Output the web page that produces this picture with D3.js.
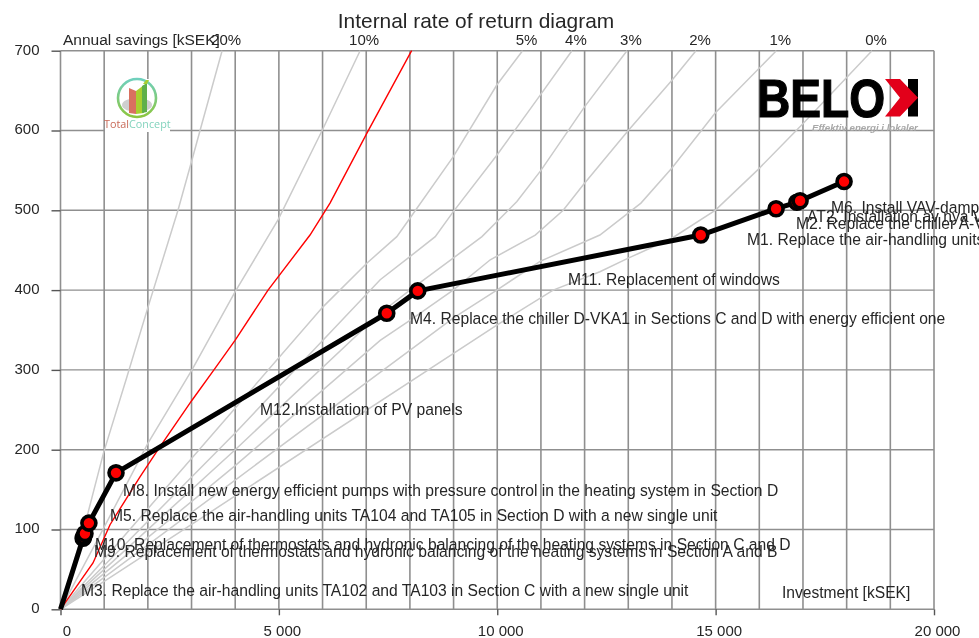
<!DOCTYPE html>
<html><head><meta charset="utf-8">
<style>
html,body{margin:0;padding:0;background:#fff;overflow:hidden}
svg{display:block;font-family:"Liberation Sans",Arial,sans-serif;filter:blur(0.4px)}
text{fill:#262626}
</style>
<script src="https://cdn.jsdelivr.net/npm/d3@7/dist/d3.min.js"></script>
</head><body><svg id="c" width="979" height="638"></svg>
<script>
const xTicks=d3.range(0,20001,5000), xGrid=d3.range(0,20001,1000), yTicks=d3.range(0,701,100);
const irrLabels=["20%","10%","5%","4%","3%","2%","1%","0%"];
const irr20=[[0,0],[630,121],[985,196],[1520,291],[2000,378],[2690,500],[3010,563],[3195,600],[3700,700]];
const irr10=[[0,0],[1000,103],[2000,208],[3010,300],[4000,398],[4980,488],[5990,600],[6860,700]];
const irr5=[[0,0],[1000,63],[3000,189],[6010,379],[7020,434],[7700,467],[8000,490],[8990,567],[9990,657],[10580,700]];
const irr4=[[0,0],[1000,55],[4000,221],[7320,413],[8000,442],[8580,467],[8990,498],[9990,569],[10980,644],[11710,700]];
const irr3=[[0,0],[1000,50],[4000,200],[7320,371],[8000,400],[8990,440],[9650,467],[10450,511],[11000,550],[11990,629],[12970,700]];
const irr2=[[0,0],[1000,45],[4000,180],[7320,337],[8000,362],[8990,400],[9840,438],[10870,469],[11510,500],[11970,532],[13000,600],[14000,663],[14550,700]];
const irr1=[[0,0],[1000,40],[4000,162],[8160,331],[8990,365],[9990,400],[10980,436],[12350,469],[13290,509],[14000,553],[14990,622],[16390,700]];
const irr0=[[0,0],[1000,35],[4000,142],[9990,356],[11280,400],[12350,423],[13000,440],[14000,465],[14990,500],[15970,551],[16970,607],[18580,700]];
const irrCurves=[irr20,irr10,irr5,irr4,irr3,irr2,irr1,irr0];
const redCurve=[[0,0],[744,58],[1134,106],[1820,166],[2233,200],[3011,262],[3538,302],[3996,337],[4752,400],[5713,469],[6171,509],[7019,597],[8040,700]];
const investment=[0,518,530,560,650,1271,7470,8180,14660,16384,16860,16934,17941];
const savings=[0,89,91,95,108,171,371,399,469,502,510,512,536];
const measureNames=["M3. Replace the air-handling units TA102 and TA103 in Section C with a new single unit",
"M9. Replacement of thermostats and hydronic balancing of the heating systems in Section A and B",
"M10. Replacement of thermostats and hydronic balancing of the heating systems in Section C and D",
"M5. Replace the air-handling units TA104 and TA105 in Section D with a new single unit",
"M8. Install new energy efficient pumps with pressure control in the heating system in Section D",
"M12.Installation of PV panels",
"M4. Replace the chiller D-VKA1 in Sections C and D with energy efficient one",
"M11. Replacement of windows",
"M1. Replace the air-handling units",
"M2. Replace the chiller A-VKA1",
"AT2. Installation av nya VAV",
"M6. Install VAV-dampers"];
const labelX=[469,767,790,1134,1431,4568,8003,11622,15720,16842,17094,17644];
const labelY=[24,72,81,117,149,250,364,413,464,484,492,503];

const svg=d3.select("#c");
const x=d3.scaleLinear().domain([0,20000]).range([60.5,934]);
const y=d3.scaleLinear().domain([0,700]).range([609.3,50.7]);
const line=d3.line().x(d=>x(d[0])).y(d=>y(d[1]));
const gridC="#8f8f8f";

svg.append("g").selectAll("line").data(xGrid).join("line")
 .attr("x1",d=>x(d)).attr("x2",d=>x(d)).attr("y1",y(700)).attr("y2",y(0))
 .attr("stroke",gridC).attr("stroke-width",1.6);
svg.append("g").selectAll("line").data(yTicks).join("line")
 .attr("x1",x(0)).attr("x2",x(20000)).attr("y1",d=>y(d)).attr("y2",d=>y(d))
 .attr("stroke",gridC).attr("stroke-width",1.4);

const ax=svg.append("g").attr("transform",`translate(0,${y(0)})`)
 .call(d3.axisBottom(x).tickValues(xTicks).tickSize(6).tickPadding(10).tickFormat(d=>d3.format(",")(d).replace(",","\u00a0")));
const ay=svg.append("g").attr("transform",`translate(${x(0)},0)`)
 .call(d3.axisLeft(y).tickValues(yTicks).tickSize(9).tickPadding(12));
[ax,ay].forEach(a=>{a.select(".domain").remove();a.selectAll("line").attr("stroke","#555").attr("stroke-width",1.4);
 a.selectAll("text").attr("font-size",15).attr("font-family","Liberation Sans").style("fill","#262626");});
ax.selectAll("text").attr("dx",d=>d===0?6:3);
ay.selectAll("text").attr("dy","0.22em");

svg.append("g").selectAll("path").data(irrCurves).join("path").attr("d",line)
 .attr("fill","none").attr("stroke","#cbcbcb").attr("stroke-width",1.5);
svg.append("path").datum(redCurve).attr("d",line).attr("fill","none").attr("stroke","#ff0000").attr("stroke-width",1.4);

const tc=svg.append("g");
tc.append("rect").attr("x",105).attr("y",79).attr("width",65).attr("height",53).attr("fill","#fff");
const defs=svg.append("defs");
const g1=defs.append("linearGradient").attr("id","ring").attr("x1",0).attr("y1",0).attr("x2",0).attr("y2",1);
g1.append("stop").attr("offset",0).attr("stop-color","#6fd0bd");g1.append("stop").attr("offset",1).attr("stop-color","#8cc63f");
tc.append("ellipse").attr("cx",137).attr("cy",105).attr("rx",15).attr("ry",7).attr("fill","#cfcfcf");
tc.append("polygon").attr("points","129,88 136,91 136,114 129,113").attr("fill","#d9705f");
tc.append("polygon").attr("points","136,91 144,85 144,113 136,114").attr("fill","#a8cf2f");
tc.append("polygon").attr("points","142,86 147,83 147,112 142,113").attr("fill","#5fb04a");
tc.append("circle").attr("cx",137).attr("cy",98).attr("r",19).attr("fill","none").attr("stroke","url(#ring)").attr("stroke-width",2.6);
tc.append("path").attr("d","M143 84l3-4 3 0-2 4z").attr("fill","#a8cf2f");
const tct=tc.append("text").attr("x",104).attr("y",128).attr("font-size",10.8).attr("font-family","Open Sans");
tct.append("tspan").text("Total").style("fill","#c96a58");
tct.append("tspan").text("Concept").style("fill","#82d3bd");

const bl=svg.append("g");
bl.append("text").attr("transform","translate(757,116.5) scale(0.87,1)").attr("font-size",53).attr("font-weight",700)
 .attr("stroke","#000").attr("stroke-width",1.2).text("BELO").style("fill","#000");
bl.append("rect").attr("x",908).attr("y",79).attr("width",10).attr("height",37.5).attr("fill","#000");
bl.append("polygon").attr("points","885,79 900,79 918,97.7 900,116.5 885,116.5 900,97.7").attr("fill","#e2001a");
bl.append("text").attr("x",812).attr("y",130.5).attr("font-size",9.7).attr("font-weight",700).attr("font-style","italic")
 .text("Effektiv energi i lokaler").style("fill","#a8a8a8");

const pts=investment.map((v,i)=>[v,savings[i]]);
svg.append("path").datum(pts).attr("d",line)
 .attr("fill","none").attr("stroke","#000").attr("stroke-width",5).attr("stroke-linejoin","round");
svg.append("g").selectAll("circle").data(pts.slice(1)).join("circle")
 .attr("cx",d=>x(d[0])).attr("cy",d=>y(d[1])).attr("r",7)
 .attr("fill","#ff0000").attr("stroke","#000").attr("stroke-width",3.6);

svg.append("g").selectAll("text").data(measureNames).join("text")
 .attr("x",(d,i)=>x(labelX[i])).attr("y",(d,i)=>y(labelY[i])).attr("dy","0.35em")
 .attr("font-size",15.65).text(d=>d);

const tops=irrCurves.map(c=>c[c.length-1][0]);
svg.append("g").selectAll("text").data(irrLabels).join("text")
 .attr("x",(d,i)=>x(tops[i])+4).attr("y",y(700)-10.5).attr("dy","0.35em").attr("text-anchor","middle")
 .attr("font-size",15).text(d=>d);

svg.append("text").attr("x",476).attr("y",20.5).attr("dy","0.35em").attr("text-anchor","middle").attr("font-size",20.9).text("Internal rate of return diagram");
svg.append("text").attr("x",63).attr("y",40).attr("dy","0.35em").attr("font-size",15.5).text("Annual savings [kSEK]");
svg.append("text").attr("x",782).attr("y",593).attr("dy","0.35em").attr("font-size",15.6).text("Investment [kSEK]");
</script></body></html>
